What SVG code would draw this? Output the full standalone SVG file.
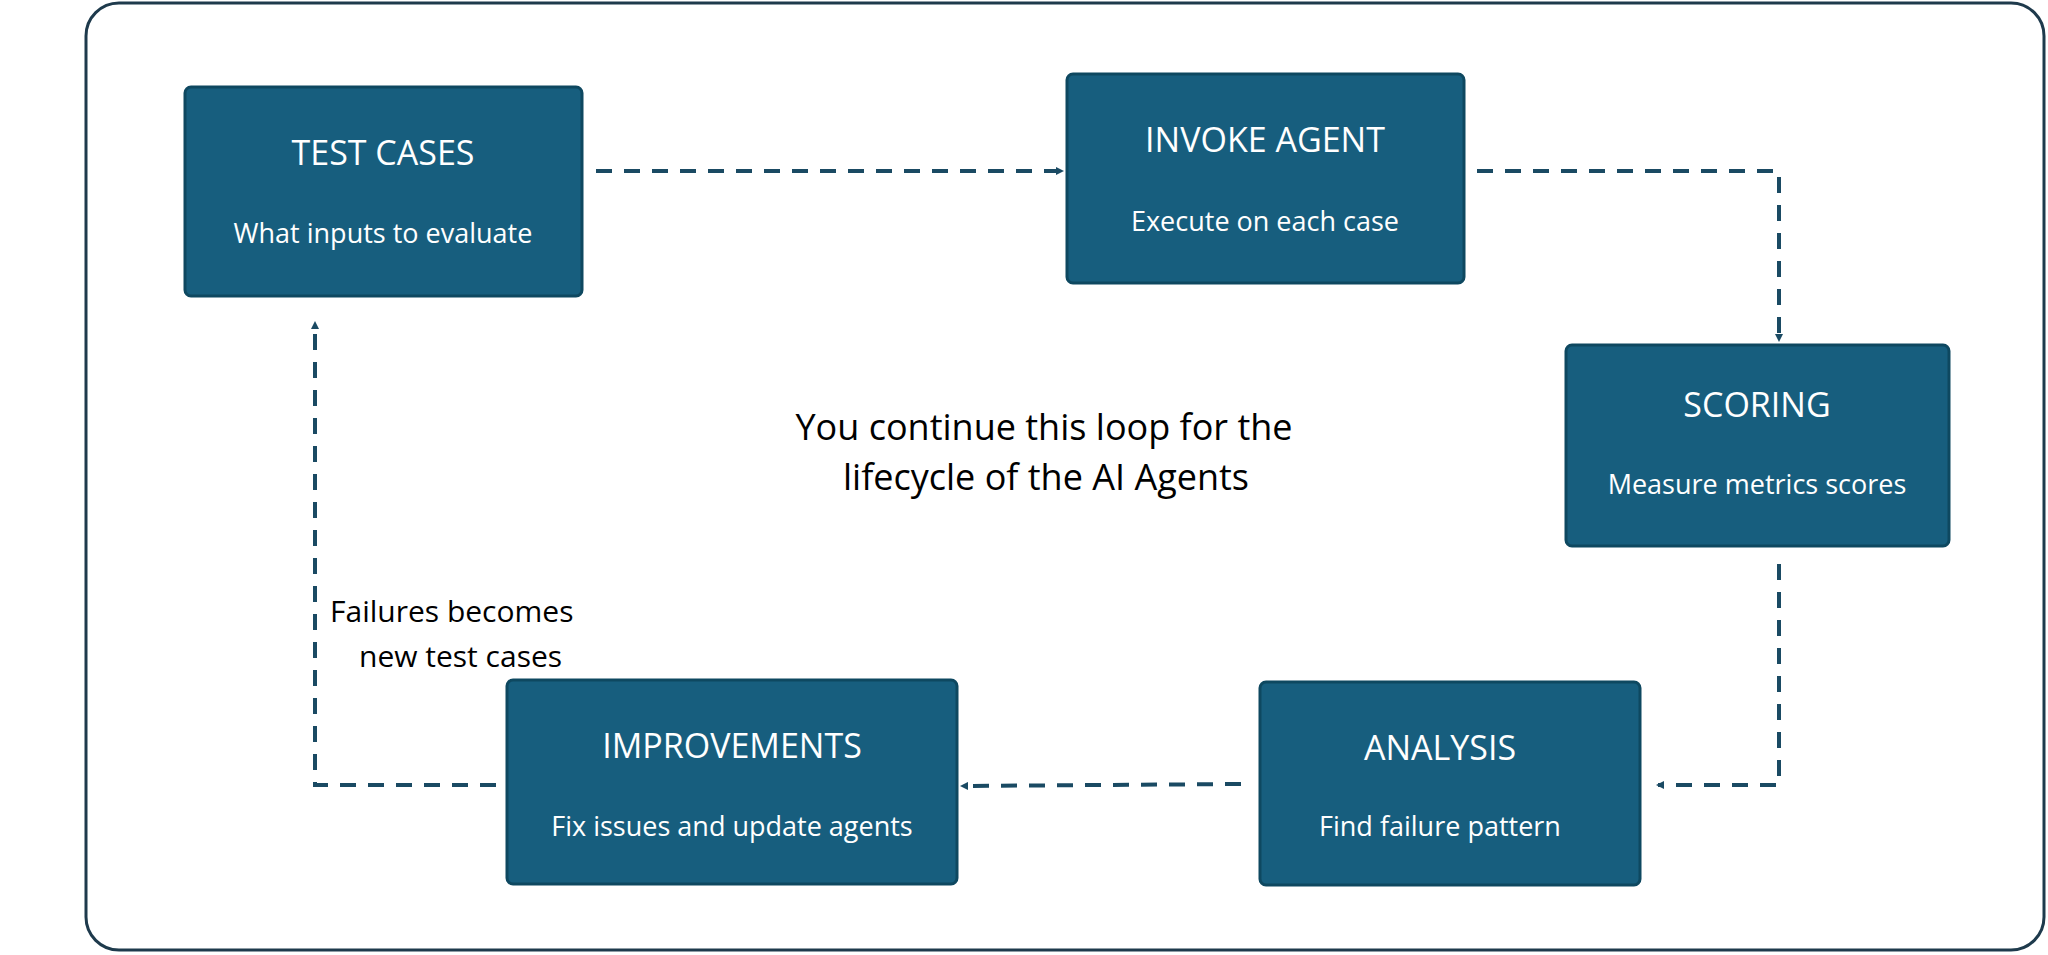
<svg xmlns="http://www.w3.org/2000/svg" width="2048" height="955" viewBox="0 0 2048 955">
<style>
.box{fill:#175e7e;stroke:#0e4860;stroke-width:3}
.t{fill:#fff;font-family:"Open Sans","Noto Sans",sans-serif;font-size:34px;text-anchor:middle}
.s{fill:#fff;font-family:"Open Sans","Noto Sans",sans-serif;font-size:27px;text-anchor:middle}
.c{fill:none;stroke:#1a4a63;stroke-width:4;stroke-dasharray:16 12;marker-end:url(#a)}
.l{fill:#000;font-family:"Open Sans","Noto Sans",sans-serif}
</style>
<defs><marker id="a" markerWidth="8" markerHeight="8" refX="6" refY="4" orient="auto" markerUnits="userSpaceOnUse" viewBox="0 0 8 8"><path d="M0,0 L8,4 L0,8 z" fill="#1a4a63"/></marker></defs>
<rect x="0" y="0" width="2048" height="955" fill="#fff"/>
<rect x="86" y="3" width="1958" height="947" rx="33" fill="none" stroke="#1e3a4c" stroke-width="3"/>
<g id="test"><rect class="box" x="185" y="87" width="397" height="209" rx="6"/><text class="t" x="383" y="165">TEST CASES</text><text class="s" x="383" y="243">What inputs to evaluate</text></g>
<g id="invoke"><rect class="box" x="1067" y="74" width="397" height="209" rx="6"/><text class="t" x="1265" y="152">INVOKE AGENT</text><text class="s" x="1265" y="231">Execute on each case</text></g>
<g id="scoring"><rect class="box" x="1566" y="345" width="383" height="201" rx="6"/><text class="t" x="1757" y="417">SCORING</text><text class="s" x="1757" y="494">Measure metrics scores</text></g>
<g id="analysis"><rect class="box" x="1260" y="682" width="380" height="203" rx="6"/><text class="t" x="1440" y="760">ANALYSIS</text><text class="s" x="1440" y="836">Find failure pattern</text></g>
<g id="improve"><rect class="box" x="507" y="680" width="450" height="204" rx="6"/><text class="t" x="732" y="758">IMPROVEMENTS</text><text class="s" x="732" y="836">Fix issues and update agents</text></g>
<g id="connectors">
<path class="c" d="M596,171 H1062"/>
<path class="c" d="M1477,171 H1779 V340"/>
<path class="c" d="M1779,564 V785 H1658"/>
<path class="c" d="M1241,784 L962,786"/>
<path class="c" d="M496,785 H315 V323"/>
</g>
<text class="l" x="1044" y="440" font-size="36" text-anchor="middle">You continue this loop for the</text>
<text class="l" x="1046" y="490" font-size="36" text-anchor="middle">lifecycle of the AI Agents</text>
<text class="l" x="330" y="622" font-size="30">Failures becomes</text>
<text class="l" x="359" y="667" font-size="30">new test cases</text>
</svg>
